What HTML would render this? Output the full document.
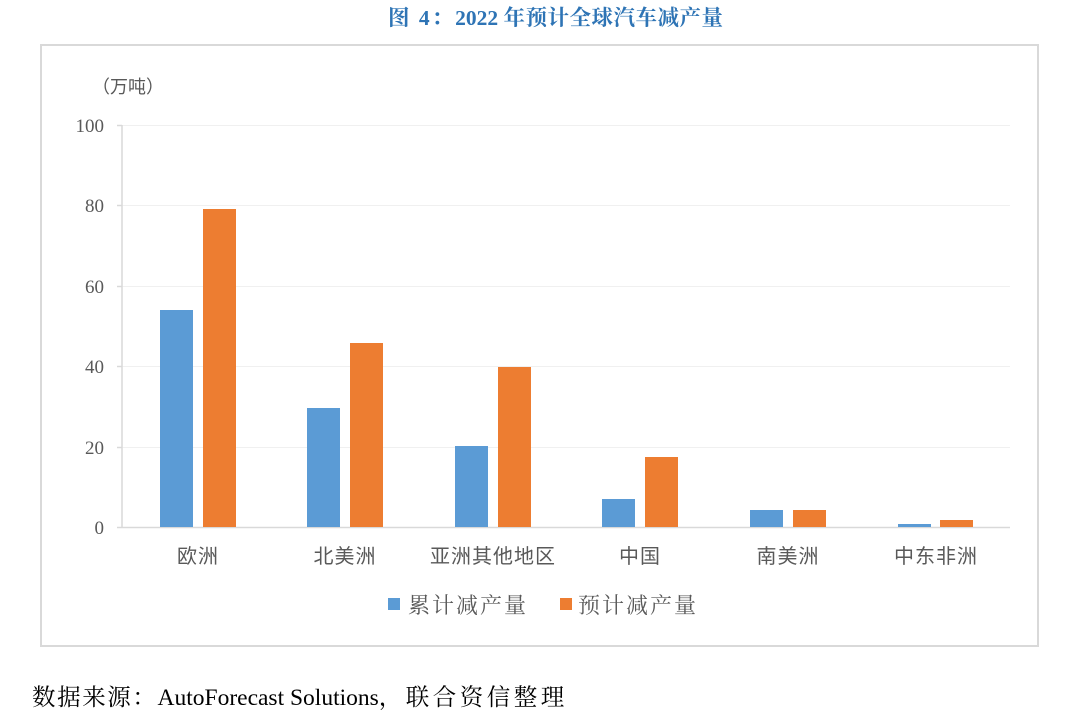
<!DOCTYPE html>
<html><head><meta charset="utf-8"><style>
body{margin:0;background:#fff;width:1080px;height:716px;overflow:hidden}
</style></head><body>
<svg width="1080" height="716" xmlns="http://www.w3.org/2000/svg" font-family="'Liberation Sans','Noto Sans CJK SC',sans-serif">
<text x="388" y="25" font-family="'Liberation Serif','Noto Serif CJK SC',serif" font-weight="bold" font-size="21.5" fill="#2e74b5"><tspan letter-spacing="2">图 4：</tspan>2022 <tspan letter-spacing="0.5">年预计全球汽车减产量</tspan></text>
<rect x="41" y="45" width="997" height="601" fill="none" stroke="#d9d9d9" stroke-width="2"/>
<text x="92" y="93" font-size="18" fill="#595959">（万吨）</text>
<g stroke="#f0f0f0" stroke-width="1">
<line x1="122" y1="125.5" x2="1010" y2="125.5"/>
<line x1="122" y1="205.5" x2="1010" y2="205.5"/>
<line x1="122" y1="286.5" x2="1010" y2="286.5"/>
<line x1="122" y1="366.5" x2="1010" y2="366.5"/>
<line x1="122" y1="447.5" x2="1010" y2="447.5"/>
</g>
<g stroke="#d9d9d9" stroke-width="1.5">
<line x1="122" y1="125" x2="122" y2="528"/>
<line x1="122" y1="527.5" x2="1010" y2="527.5"/>
<line x1="117" y1="125.5" x2="122" y2="125.5"/>
<line x1="117" y1="205.5" x2="122" y2="205.5"/>
<line x1="117" y1="286.5" x2="122" y2="286.5"/>
<line x1="117" y1="366.5" x2="122" y2="366.5"/>
<line x1="117" y1="447.5" x2="122" y2="447.5"/>
<line x1="117" y1="527.5" x2="122" y2="527.5"/>
</g>
<g font-family="'Liberation Serif',serif" font-size="19" fill="#595959" text-anchor="end">
<text x="104" y="132">100</text><text x="104" y="212">80</text><text x="104" y="293">60</text>
<text x="104" y="373">40</text><text x="104" y="454">20</text><text x="104" y="534">0</text>
</g>
<g fill="#5b9bd5">
<rect x="160" y="310" width="33" height="217"/>
<rect x="307" y="408" width="33" height="119"/>
<rect x="455" y="446" width="33" height="81"/>
<rect x="602" y="499" width="33" height="28"/>
<rect x="750" y="510" width="33" height="17"/>
<rect x="898" y="524" width="33" height="3"/>
</g>
<g fill="#ed7d31">
<rect x="203" y="209" width="33" height="318"/>
<rect x="350" y="343" width="33" height="184"/>
<rect x="498" y="367" width="33" height="160"/>
<rect x="645" y="457" width="33" height="70"/>
<rect x="793" y="510" width="33" height="17"/>
<rect x="940" y="520" width="33" height="7"/>
</g>
<g font-size="20" fill="#595959" text-anchor="middle" letter-spacing="1">
<text x="198" y="563">欧洲</text><text x="345" y="563">北美洲</text><text x="493" y="563">亚洲其他地区</text>
<text x="640" y="563">中国</text><text x="788" y="563">南美洲</text><text x="936" y="563">中东非洲</text>
</g>
<rect x="388" y="598" width="12" height="12" fill="#5b9bd5"/>
<text x="408" y="613" font-size="22" letter-spacing="2" fill="#595959" font-family="'Noto Serif CJK SC',serif">累计减产量</text>
<rect x="560" y="598" width="12" height="12" fill="#ed7d31"/>
<text x="578" y="613" font-size="22" letter-spacing="2" fill="#595959" font-family="'Noto Serif CJK SC',serif">预计减产量</text>
<text x="32" y="705" font-size="23.5" fill="#000" font-family="'Liberation Serif','Noto Serif CJK SC',serif"><tspan letter-spacing="1.6">数据来源：</tspan>AutoForecast Solutions<tspan letter-spacing="3.5">，联合资信整理</tspan></text>
</svg>
</body></html>
